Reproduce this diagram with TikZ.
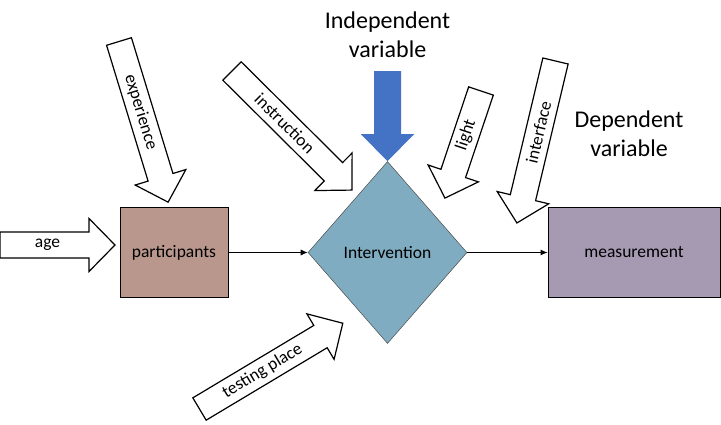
\documentclass[tikz,border=0pt]{standalone}
\usepackage{fontspec}
\setmainfont{Carlito}
\usetikzlibrary{arrows.meta,shapes.geometric}

\definecolor{partfill}{RGB}{185,151,140}
\definecolor{interfill}{RGB}{127,172,192}
\definecolor{measfill}{RGB}{166,153,178}
\definecolor{indepblue}{RGB}{68,114,196}

% hollow block arrow: style, name, tail, angle, length, text turn, label
\newcommand{\fatarrow}[7][fatbody]{%
  \begin{scope}[shift={#3}, rotate=#4]
    \draw[#1] (0,-13) -- ({#5-26},-13) -- ({#5-26},-26.5) -- (#5,0)
      -- ({#5-26},26.5) -- ({#5-26},13) -- (0,13) -- cycle;
    \node[fattext, transform shape, rotate=#6] (#2) at ({(#5-26)/2+3},0) {#7};
  \end{scope}}

\begin{document}
\begin{tikzpicture}[x=1pt, y=-1pt]
    \tikzstyle{main}=[draw=black, line width=0.8pt, inner sep=0pt, font=\fontsize{17.5}{20}\selectfont]
    \tikzstyle{connect}=[-{Latex[length=7pt, width=6pt]}, line width=0.9pt]
    \tikzstyle{fatbody}=[draw=black, fill=white, line width=1.2pt, line join=miter]
    \tikzstyle{fattext}=[inner sep=0pt, font=\fontsize{17.5}{20}\selectfont]
    \tikzstyle{title}=[align=center, font=\fontsize{24}{29}\selectfont]

      \useasboundingbox (0,0) rectangle (721,425);

      \node[main, fill=partfill, minimum width=108pt, minimum height=90pt] (participants) at (174,252.5) {participants};
      \node[main, diamond, draw=black!70, line width=0.5pt, fill=interfill, minimum width=159pt, minimum height=182pt] (intervention) at (387.5,252.5) {Intervention};
      \node[main, fill=measfill, minimum width=172pt, minimum height=90pt] (measurement) at (634,252.5) {measurement};

      \node[title] (indep) at (387.5,35) {Independent\\variable};
      \node[title] (dep) at (629,134) {Dependent\\variable};

      \path
        (participants) edge [connect] (intervention)
        (intervention.east) edge [connect] (measurement.west);

      % blue arrow onto the diamond
      \begin{scope}[shift={(intervention.north)}]
        \fill[indepblue] (-13.5,-90) -- (13.5,-90) -- (13.5,-27) -- (26.5,-27) -- (0,0)
          -- (-26.5,-27) -- (-13.5,-27) -- cycle;
      \end{scope}

      \fatarrow{age}{(0,245)}{0}{115}{0}{age}
      \fatarrow{experience}{(119,41.5)}{-73}{168}{0}{experience}
      \fatarrow{instruction}{(232,71)}{-44.8}{169}{0}{instruction}
      \fatarrow{light}{(481,91)}{-108.6}{113}{180}{light}
      \fatarrow{interface}{(555.5,61)}{-103.4}{166.5}{180}{interface}
      \fatarrow{testing}{(199.5,409)}{30.9}{167}{0}{testing place}
    \end{tikzpicture}
\end{document}
